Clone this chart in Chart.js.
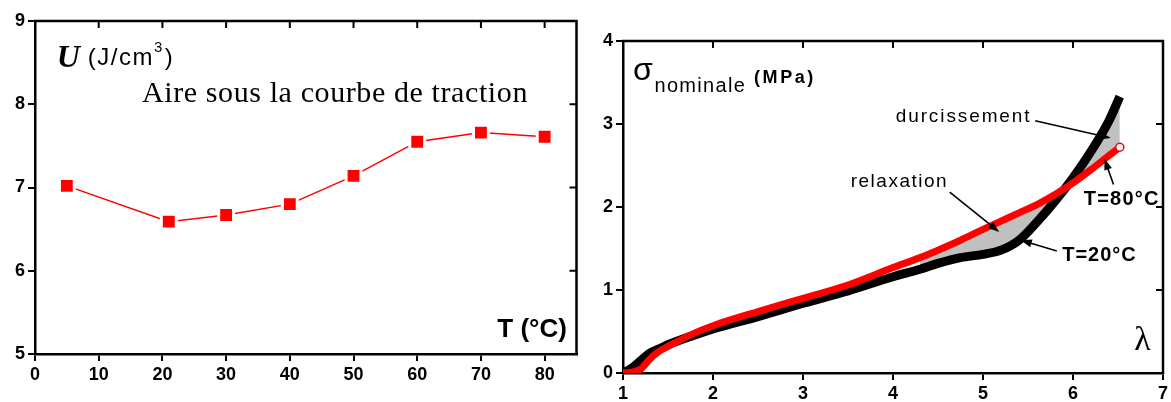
<!DOCTYPE html>
<html>
<head>
<meta charset="utf-8">
<script src="https://cdn.jsdelivr.net/npm/chart.js@4.4.1/dist/chart.umd.min.js"></script>
<style>
  body { margin: 0; background: #fff; }
  canvas { position: absolute; top: 0; }
  #energy-chart { left: 0; }
  #stress-chart { left: 590px; }
</style>
</head>
<body>
<canvas id="energy-chart" width="590" height="402"></canvas>
<canvas id="stress-chart" width="581" height="402"></canvas>
<script>
/* ============================================= */
/*                     Data                      */
/* ============================================= */

// left panel : energy under the traction curve vs temperature
const tempC = [5, 21, 30, 40, 50, 60, 70, 80];
const energyU = [7.02, 6.59, 6.67, 6.80, 7.14, 7.55, 7.66, 7.61];
const tempTicks = [0, 10, 20, 30, 40, 50, 60, 70, 80];
const energyTicks = [5, 6, 7, 8, 9];

// right panel : nominal stress vs stretch ratio
const lambda = [1.0, 1.1, 1.2, 1.3, 1.4, 1.5, 1.75, 2.0, 2.5, 3.0, 3.5, 4.0, 4.3, 4.5, 4.75, 5.0, 5.2, 5.4, 5.6, 5.8, 6.0, 6.2, 6.4, 6.52];
const sigma20 = [0.0, 0.06, 0.15, 0.24, 0.29, 0.34, 0.44, 0.53, 0.68, 0.84, 0.99, 1.16, 1.25, 1.32, 1.39, 1.43, 1.48, 1.60, 1.82, 2.07, 2.35, 2.67, 3.04, 3.33];
const sigma80 = [0.0, 0.01, 0.05, 0.17, 0.26, 0.32, 0.46, 0.57, 0.74, 0.90, 1.06, 1.27, 1.39, 1.48, 1.60, 1.73, 1.83, 1.93, 2.03, 2.15, 2.29, 2.45, 2.62, 2.72];
const lambdaTicks = [1, 2, 3, 4, 5, 6, 7];
const sigmaTicks = [0, 1, 2, 3, 4];
const fillFrom = 4.3; // grey area between the two curves starts here

/* ============================================= */
/*                   Helpers                     */
/* ============================================= */

const tickFont = { family: 'Liberation Sans, Arial, sans-serif', size: 18, weight: 'bold' };

function axis(min, max, ticks) {
    return {
        type: 'linear',
        min: min,
        max: max,
        afterBuildTicks: s => { s.ticks = ticks.map(v => ({ value: v })); },
        border: { display: true, color: '#000', width: 2.5 },
        grid: { drawOnChartArea: false, drawTicks: true, tickLength: 7, color: '#000', lineWidth: 2 },
        ticks: { color: '#000', font: tickFont, padding: 3 }
    };
}

// top and right border with inward ticks
const framePlugin = {
    id: 'frame',
    afterDraw(chart) {
        const { ctx, chartArea: a, scales: { x, y } } = chart;
        ctx.save();
        ctx.strokeStyle = '#000';
        ctx.lineWidth = 2.5;
        ctx.beginPath();
        ctx.moveTo(a.left - 1, a.top);
        ctx.lineTo(a.right, a.top);
        ctx.lineTo(a.right, a.bottom + 1);
        ctx.stroke();
        ctx.lineWidth = 2;
        ctx.beginPath();
        x.ticks.forEach(t => {
            const px = x.getPixelForValue(t.value);
            ctx.moveTo(px, a.top);
            ctx.lineTo(px, a.top + 7);
        });
        y.ticks.forEach(t => {
            const py = y.getPixelForValue(t.value);
            ctx.moveTo(a.right, py);
            ctx.lineTo(a.right - 7, py);
        });
        ctx.stroke();
        ctx.restore();
    }
};

function text(chart, str, xv, yv, font, spacing, align) {
    const { ctx, scales: { x, y } } = chart;
    ctx.save();
    ctx.font = font;
    ctx.fillStyle = '#000';
    ctx.textBaseline = 'alphabetic';
    ctx.textAlign = align || 'left';
    ctx.letterSpacing = (spacing || 0) + 'px';
    ctx.fillText(str, x.getPixelForValue(xv), y.getPixelForValue(yv));
    const w = ctx.measureText(str).width;
    ctx.restore();
    return w;
}

function arrow(chart, x1, y1, x2, y2) {
    const { ctx, scales: { x, y } } = chart;
    const ax = x.getPixelForValue(x1), ay = y.getPixelForValue(y1);
    const bx = x.getPixelForValue(x2), by = y.getPixelForValue(y2);
    const ang = Math.atan2(by - ay, bx - ax);
    ctx.save();
    ctx.strokeStyle = '#000';
    ctx.fillStyle = '#000';
    ctx.lineWidth = 1.6;
    ctx.beginPath();
    ctx.moveTo(ax, ay);
    ctx.lineTo(bx - 8 * Math.cos(ang), by - 8 * Math.sin(ang));
    ctx.stroke();
    ctx.beginPath();
    ctx.moveTo(bx, by);
    ctx.lineTo(bx - 11 * Math.cos(ang) + 4 * Math.sin(ang), by - 11 * Math.sin(ang) - 4 * Math.cos(ang));
    ctx.lineTo(bx - 11 * Math.cos(ang) - 4 * Math.sin(ang), by - 11 * Math.sin(ang) + 4 * Math.cos(ang));
    ctx.closePath();
    ctx.fill();
    ctx.restore();
}

/* ============================================= */
/*              Energy chart (left)              */
/* ============================================= */

const energyLabels = {
    id: 'energyLabels',
    afterDraw(chart) {
        const { ctx, scales: { x, y } } = chart;
        const wU = text(chart, 'U', 3.4, 8.45, 'italic bold 32px "Liberation Serif", serif');
        // (J/cm3) drawn piece by piece
        let px = x.getPixelForValue(3.4) + wU + 8;
        const base = y.getPixelForValue(8.47);
        ctx.save();
        ctx.fillStyle = '#000';
        ctx.letterSpacing = '1.5px';
        ctx.font = '24px "Liberation Sans", Arial, sans-serif';
        ctx.fillText('(J/cm', px, base);
        px += ctx.measureText('(J/cm').width;
        ctx.font = '15px "Liberation Sans", Arial, sans-serif';
        ctx.fillText('3', px, base - 13);
        px += ctx.measureText('3').width + 1;
        ctx.font = '24px "Liberation Sans", Arial, sans-serif';
        ctx.fillText(')', px, base);
        ctx.restore();
        text(chart, 'Aire sous la courbe de traction', 16.8, 8.03, '30px "Liberation Serif", serif', 0.6);
        text(chart, 'T (°C)', 83.5, 5.2, 'bold 26px "Liberation Sans", Arial, sans-serif', 0, 'right');
    }
};

const energyX = axis(0, 85, tempTicks);
energyX.afterFit = s => { s.height = 48; };
const energyY = axis(5, 9, energyTicks);
energyY.afterFit = s => { s.width = 35; };

new Chart(document.getElementById('energy-chart'), {
    type: 'line',
    data: {
        datasets: [{
            data: tempC.map((t, i) => ({ x: t, y: energyU[i] })),
            borderColor: '#ff0000',
            borderWidth: 1.5,
            pointStyle: 'rect',
            pointRadius: 10.5,
            pointBackgroundColor: '#ff0000',
            pointBorderColor: '#ffffff',
            pointBorderWidth: 3,
            tension: 0
        }]
    },
    options: {
        responsive: false,
        animation: false,
        layout: { padding: { top: 21, right: 9, left: 0, bottom: 0 } },
        scales: { x: energyX, y: energyY },
        plugins: { legend: { display: false }, tooltip: { enabled: false } }
    },
    plugins: [framePlugin, energyLabels]
});

/* ============================================= */
/*              Stress chart (right)             */
/* ============================================= */

const stressLabels = {
    id: 'stressLabels',
    afterDraw(chart) {
        const sans = '"Liberation Sans", Arial, sans-serif';
        text(chart, 'σ', 1.11, 3.53, '32px ' + sans);
        text(chart, 'nominale', 1.35, 3.385, '20px ' + sans, 1.3);
        text(chart, '(MPa)', 2.455, 3.5, 'bold 18px ' + sans, 2.6);
        text(chart, 'durcissement', 4.03, 3.02, '19px ' + sans, 1.9);
        arrow(chart, 5.58, 3.04, 6.42, 2.83);
        text(chart, 'relaxation', 3.53, 2.24, '19px ' + sans, 1.5);
        arrow(chart, 4.63, 2.18, 5.18, 1.70);
        text(chart, 'T=80°C', 6.12, 2.02, 'bold 20px ' + sans, 1.2);
        arrow(chart, 6.45, 2.27, 6.35, 2.58);
        text(chart, 'T=20°C', 5.88, 1.35, 'bold 20px ' + sans, 1.0);
        arrow(chart, 5.82, 1.47, 5.42, 1.60);
        text(chart, 'λ', 6.68, 0.28, '34px "Liberation Serif", serif');
    }
};

const pts = (ys) => lambda.map((l, i) => ({ x: l, y: ys[i] }));
const ptsFrom = (ys) => pts(ys).filter(p => p.x >= fillFrom);

const stressX = axis(1, 7, lambdaTicks);
stressX.afterFit = s => { s.height = 29; };
const stressY = axis(0, 4, sigmaTicks);
stressY.afterFit = s => { s.width = 33; };

new Chart(document.getElementById('stress-chart'), {
    type: 'line',
    data: {
        datasets: [
            {   // lower edge of grey area
                data: ptsFrom(sigma80),
                borderWidth: 0,
                pointRadius: 0,
                fill: false,
                cubicInterpolationMode: 'monotone',
                order: 4
            },
            {   // upper edge, filled to previous
                data: ptsFrom(sigma20),
                borderWidth: 0,
                pointRadius: 0,
                fill: '-1',
                backgroundColor: '#c0c0c0',
                cubicInterpolationMode: 'monotone',
                order: 3
            },
            {
                label: 'T=20°C',
                data: pts(sigma20),
                borderColor: '#000000',
                borderWidth: 9,
                pointRadius: 0,
                cubicInterpolationMode: 'monotone',
                order: 2
            },
            {
                label: 'T=80°C',
                data: pts(sigma80),
                borderColor: '#ff0000',
                borderWidth: 7,
                pointRadius: lambda.map((l, i) => i == lambda.length - 1 ? 4 : 0),
                pointBackgroundColor: '#ffffff',
                pointBorderColor: '#ff0000',
                pointBorderWidth: 1.5,
                cubicInterpolationMode: 'monotone',
                order: 1
            }
        ]
    },
    options: {
        responsive: false,
        animation: false,
        layout: { padding: { top: 41, right: 4, left: 0, bottom: 0 } },
        scales: { x: stressX, y: stressY },
        plugins: { legend: { display: false }, tooltip: { enabled: false } }
    },
    plugins: [framePlugin, stressLabels]
});
</script>
</body>
</html>
